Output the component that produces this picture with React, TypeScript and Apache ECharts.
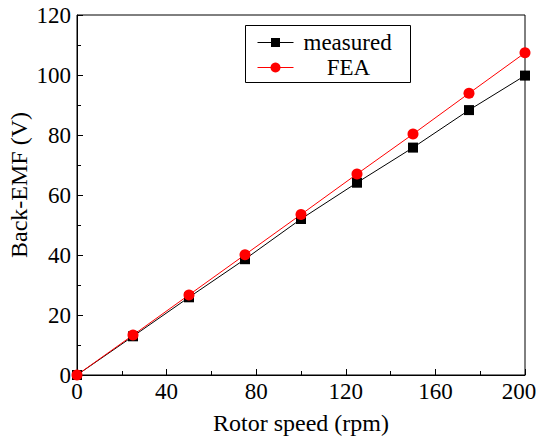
import React, { useEffect, useRef } from "react";
import * as echarts from "echarts";

const speeds = [0, 25, 50, 75, 100, 125, 150, 175, 200];
const measured = [0, 12.9, 25.9, 38.6, 52.0, 64.1, 75.8, 88.3, 99.8];
const fea = [0, 13.3, 26.7, 40.1, 53.5, 67.0, 80.3, 93.9, 107.4];
const legendNames = ["measured", "FEA"];

const FONT = "'Liberation Serif', 'Times New Roman', serif";

export default function App() {
  const ref = useRef<HTMLDivElement>(null);
  useEffect(() => {
    const chart = echarts.init(ref.current!, null, { renderer: "svg" });
    const axisCommon = {
      axisLine: { show: true, lineStyle: { color: "#000", width: 1 } },
      axisTick: { show: true, inside: true, length: 6, lineStyle: { color: "#000" } },
      minorTick: { show: true, splitNumber: 2, length: 4, lineStyle: { color: "#000" } },
      splitLine: { show: false },
      axisLabel: { color: "#000", fontFamily: FONT, fontSize: 23 },
      nameTextStyle: { color: "#000", fontFamily: FONT, fontSize: 23 },
      nameMoveOverlap: false,
    };
    chart.setOption({
      animation: false,
      backgroundColor: "#fff",
      grid: {
        left: 77,
        top: 15,
        right: 13,
        bottom: 66,
        outerBoundsMode: "none",
        show: true,
        borderColor: "#000",
        borderWidth: 1,
      },
      xAxis: {
        type: "value",
        min: 0,
        max: 200,
        interval: 40,
        name: "Rotor speed (rpm)",
        nameLocation: "middle",
        nameGap: 36,
        ...axisCommon,
        nameTextStyle: { ...axisCommon.nameTextStyle, fontSize: 24 },
        axisLabel: {
          ...axisCommon.axisLabel,
          margin: 5,
          formatter: (v: number) => (v === 200 ? "{r|" + v + "}" : String(v)),
          rich: {
            r: { color: "#000", fontFamily: FONT, fontSize: 23, padding: [0, 12, 0, 0] },
          },
        },
      },
      yAxis: {
        type: "value",
        min: 0,
        max: 120,
        interval: 20,
        name: "Back-EMF (V)",
        nameLocation: "middle",
        nameGap: 46,
        ...axisCommon,
        nameTextStyle: { ...axisCommon.nameTextStyle, fontSize: 24, padding: [0, 0, 0, 20] },
        axisLabel: { ...axisCommon.axisLabel, margin: 6 },
      },
      series: [
        {
          name: legendNames[0],
          type: "line",
          data: speeds.map((s, i) => [s, measured[i]]),
          symbol: "rect",
          symbolSize: 10,
          clip: false,
          lineStyle: { color: "#000", width: 1 },
          itemStyle: { color: "#000" },
        },
        {
          name: legendNames[1],
          type: "line",
          data: speeds.map((s, i) => [s, fea[i]]),
          symbol: "circle",
          symbolSize: 11,
          clip: false,
          lineStyle: { color: "#ff0000", width: 1 },
          itemStyle: { color: "#ff0000" },
        },
      ],
      graphic: [
        {
          type: "group",
          left: 245,
          top: 25,
          children: [
            {
              type: "rect",
              shape: { x: 0, y: 0, width: 165, height: 57 },
              style: { fill: "#fff", stroke: "#000", lineWidth: 1 },
            },
            { type: "line", shape: { x1: 12, y1: 17, x2: 48, y2: 17 }, style: { stroke: "#000", lineWidth: 1 } },
            { type: "rect", shape: { x: 25.5, y: 12.5, width: 9, height: 9 }, style: { fill: "#000" } },
            {
              type: "text",
              x: 58,
              y: 17,
              style: { text: legendNames[0], fill: "#000", font: `23px ${FONT}`, verticalAlign: "middle" },
            },
            { type: "line", shape: { x1: 12, y1: 42, x2: 48, y2: 42 }, style: { stroke: "#ff0000", lineWidth: 1 } },
            { type: "circle", shape: { cx: 30, cy: 42, r: 5 }, style: { fill: "#ff0000" } },
            {
              type: "text",
              x: 103,
              y: 42,
              style: { text: legendNames[1], fill: "#000", font: `23px ${FONT}`, verticalAlign: "middle", align: "center" },
            },
          ],
        },
      ],
    });
    return () => chart.dispose();
  }, []);
  return (
    <div
      ref={ref}
      style={{ position: "absolute", left: 0, top: 0, width: 538, height: 441 }}
    />
  );
}
